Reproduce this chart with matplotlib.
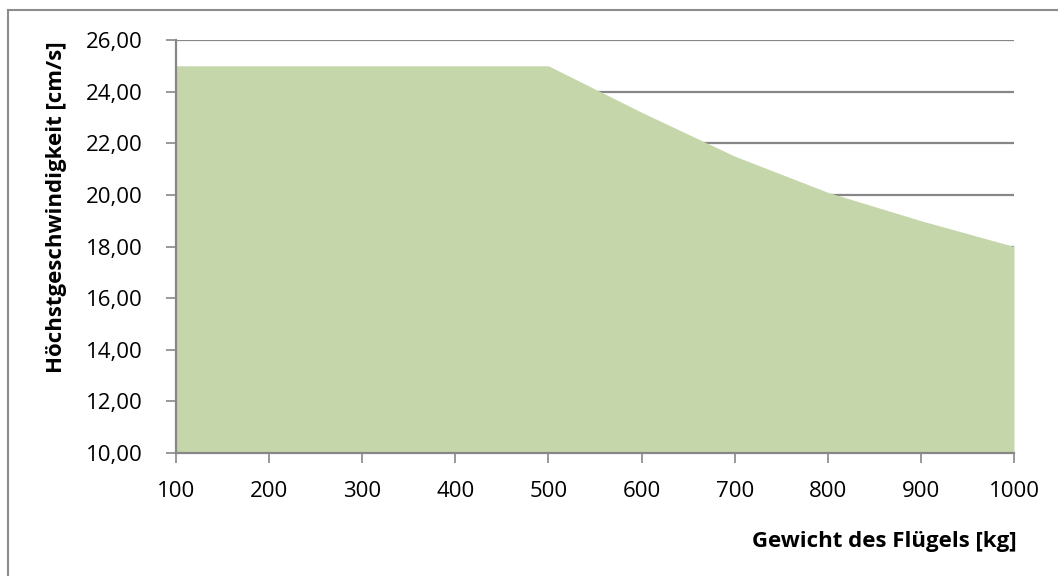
import matplotlib
matplotlib.use("Agg")
import matplotlib.pyplot as plt
from matplotlib.lines import Line2D

# Maximum speed by piano weight
weights = [100, 200, 300, 400, 500, 600, 700, 800, 900, 1000]
max_speed = [25.0, 25.0, 25.0, 25.0, 25.0, 23.2, 21.5, 20.1, 19.0, 18.0]
y_ticks = [10, 12, 14, 16, 18, 20, 22, 24, 26]
x_label = "Gewicht des Flügels [kg]"
y_label = "Höchstgeschwindigkeit [cm/s]"

plt.rcParams['font.family'] = ['Open Sans', 'DejaVu Sans']

W, H = 1058, 576
fig = plt.figure(figsize=(W / 100, H / 100), dpi=100)
ax = fig.add_axes([176 / W, 1 - 453 / H, (1014 - 176) / W, (453 - 40) / H])

grid_col = "#878787"
ax.fill_between(weights, 10, max_speed, color="#c5d6ab", linewidth=0, zorder=2)

ax.set_xlim(100, 1000)
ax.set_ylim(10, 26)
ax.set_xticks(weights)
ax.set_yticks(y_ticks)
ax.set_yticklabels([f"{v:.2f}".replace(".", ",") for v in y_ticks])
ax.yaxis.grid(True, color=grid_col, linewidth=1.6, zorder=1)
ax.set_axisbelow(True)

for s in ("top", "right"):
    ax.spines[s].set_visible(False)
for s in ("left", "bottom"):
    ax.spines[s].set_color(grid_col)
    ax.spines[s].set_linewidth(1.6)
    ax.spines[s].set_zorder(3)

ax.tick_params(axis="y", length=7.2, width=1.2, color=grid_col, pad=16.5,
               labelsize=16, labelcolor="black")
ax.tick_params(axis="x", length=7.2, width=1.2, color=grid_col, pad=13,
               labelsize=16, labelcolor="black")

fig.text(62 / W, 1 - 373 / H, y_label, rotation=90, rotation_mode="anchor",
         ha="left", va="baseline", fontsize=16, fontweight="bold")
fig.text(1017 / W, 1 - 547 / H, x_label, ha="right", va="baseline",
         fontsize=16, fontweight="bold")

# Outer chart frame
fig.add_artist(Line2D([8 / W, 8 / W], [0, 1 - 10 / H], color="#8c8c8c", linewidth=1.5))
fig.add_artist(Line2D([8 / W, 1], [1 - 10 / H, 1 - 10 / H], color="#8c8c8c", linewidth=1.5))

fig.savefig("out.png", dpi=100)
